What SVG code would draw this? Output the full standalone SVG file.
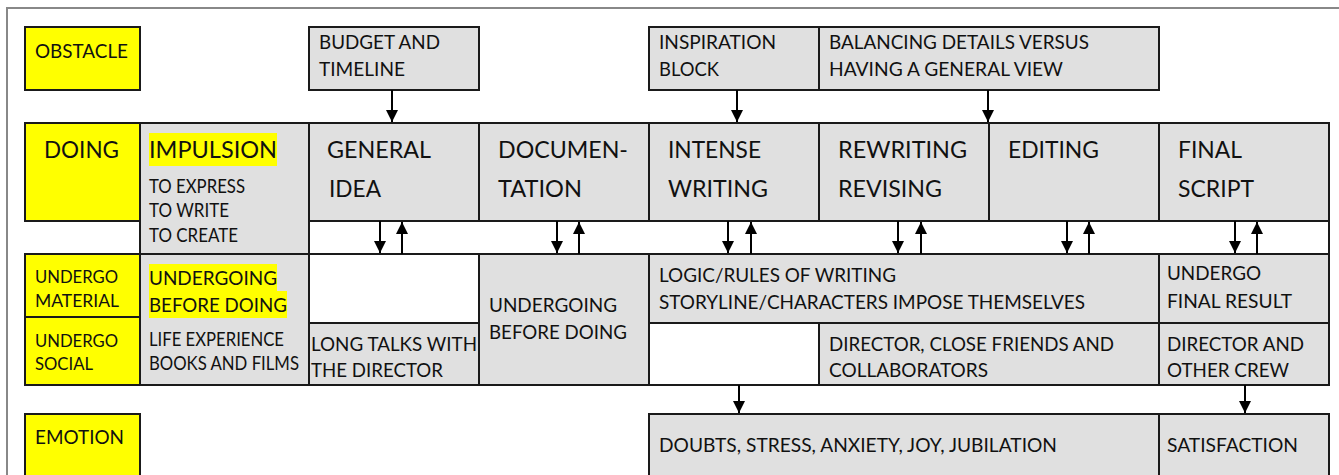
<svg xmlns="http://www.w3.org/2000/svg" width="1339" height="475" viewBox="0 0 1339 475">
<defs>
<marker id="ah" viewBox="0 0 10 10" refX="10" refY="5" markerWidth="6" markerHeight="6" orient="auto" markerUnits="strokeWidth">
<path d="M0,0 L10,5 L0,10 z" fill="#000"/>
</marker>
<style>
.y{fill:#ffff00;stroke:#1a1a1a;stroke-width:2}
.g{fill:#e0e0e0;stroke:#1a1a1a;stroke-width:2}
.w{fill:#ffffff;stroke:#1a1a1a;stroke-width:2}
.hl{fill:#ffff00}
text{font-family:Lato,"Open Sans",sans-serif;fill:#111}
.s{font-size:19.5px}
.u{font-size:17.5px}
.b{font-size:24px}
.c line{stroke:#000;stroke-width:2;marker-end:url(#ah)}
</style>
</defs>
<rect x="0" y="0" width="1339" height="475" fill="#fff"/>
<path d="M7,475 L7,8 L1339,8" fill="none" stroke="#888" stroke-width="2"/>

<g id="obstacle"><rect class="y" x="25" y="27" width="115" height="63"/><text class="s" x="35" y="58" textLength="93" lengthAdjust="spacingAndGlyphs">OBSTACLE</text></g>
<g id="budget"><rect class="g" x="309" y="27" width="170" height="63"/><text class="s" x="319" y="49" textLength="121" lengthAdjust="spacingAndGlyphs">BUDGET AND</text><text class="s" x="319" y="76" textLength="86" lengthAdjust="spacingAndGlyphs">TIMELINE</text></g>
<g id="inspiration"><rect class="g" x="649" y="27" width="170" height="63"/><text class="s" x="659" y="49" textLength="117" lengthAdjust="spacingAndGlyphs">INSPIRATION</text><text class="s" x="659" y="76" textLength="60" lengthAdjust="spacingAndGlyphs">BLOCK</text></g>
<g id="balancing"><rect class="g" x="819" y="27" width="340" height="63"/><text class="s" x="829" y="49" textLength="260" lengthAdjust="spacingAndGlyphs">BALANCING DETAILS VERSUS</text><text class="s" x="829" y="76" textLength="234" lengthAdjust="spacingAndGlyphs">HAVING A GENERAL VIEW</text></g>

<g id="band"><rect class="w" x="309" y="221" width="1020" height="33"/></g>

<g id="doing"><rect class="y" x="25" y="123" width="115" height="98"/><text class="b" x="44" y="158" textLength="75" lengthAdjust="spacingAndGlyphs">DOING</text></g>
<g id="impulsion"><rect class="g" x="140" y="123" width="169" height="131"/><rect class="hl" x="149" y="133" width="128" height="33"/><text class="b" x="149" y="158" textLength="128" lengthAdjust="spacingAndGlyphs">IMPULSION</text><text class="s" x="149" y="193" textLength="96" lengthAdjust="spacingAndGlyphs">TO EXPRESS</text><text class="s" x="149" y="217" textLength="80" lengthAdjust="spacingAndGlyphs">TO WRITE</text><text class="s" x="149" y="242" textLength="89" lengthAdjust="spacingAndGlyphs">TO CREATE</text></g>
<g id="general-idea"><rect class="g" x="309" y="123" width="170" height="98"/><text class="b" x="327" y="158" textLength="104" lengthAdjust="spacingAndGlyphs">GENERAL</text><text class="b" x="329" y="197" textLength="52" lengthAdjust="spacingAndGlyphs">IDEA</text></g>
<g id="documentation"><rect class="g" x="479" y="123" width="170" height="98"/><text class="b" x="498" y="158" textLength="130" lengthAdjust="spacingAndGlyphs">DOCUMEN-</text><text class="b" x="498" y="197" textLength="84" lengthAdjust="spacingAndGlyphs">TATION</text></g>
<g id="intense-writing"><rect class="g" x="649" y="123" width="170" height="98"/><text class="b" x="668" y="158" textLength="93" lengthAdjust="spacingAndGlyphs">INTENSE</text><text class="b" x="668" y="197" textLength="100" lengthAdjust="spacingAndGlyphs">WRITING</text></g>
<g id="rewriting"><rect class="g" x="819" y="123" width="170" height="98"/><text class="b" x="838" y="158" textLength="129" lengthAdjust="spacingAndGlyphs">REWRITING</text><text class="b" x="838" y="197" textLength="104" lengthAdjust="spacingAndGlyphs">REVISING</text></g>
<g id="editing"><rect class="g" x="989" y="123" width="170" height="98"/><text class="b" x="1008" y="158" textLength="91" lengthAdjust="spacingAndGlyphs">EDITING</text></g>
<g id="final-script"><rect class="g" x="1159" y="123" width="170" height="98"/><text class="b" x="1178" y="158" textLength="64" lengthAdjust="spacingAndGlyphs">FINAL</text><text class="b" x="1178" y="197" textLength="76" lengthAdjust="spacingAndGlyphs">SCRIPT</text></g>

<g id="undergo-material"><rect class="y" x="25" y="254" width="115" height="63"/><text class="u" x="35" y="283" textLength="83" lengthAdjust="spacingAndGlyphs">UNDERGO</text><text class="u" x="35" y="307" textLength="84" lengthAdjust="spacingAndGlyphs">MATERIAL</text></g>
<g id="undergo-social"><rect class="y" x="25" y="317" width="115" height="68"/><text class="u" x="35" y="347" textLength="83" lengthAdjust="spacingAndGlyphs">UNDERGO</text><text class="u" x="35" y="370" textLength="58" lengthAdjust="spacingAndGlyphs">SOCIAL</text></g>
<g id="undergoing-before"><rect class="g" x="140" y="254" width="169" height="131"/><rect class="hl" x="149" y="264" width="128" height="27"/><rect class="hl" x="149" y="291" width="138" height="27"/><text class="s" x="149" y="285" textLength="128" lengthAdjust="spacingAndGlyphs">UNDERGOING</text><text class="s" x="149" y="312" textLength="138" lengthAdjust="spacingAndGlyphs">BEFORE DOING</text><text class="s" x="149" y="346" textLength="135" lengthAdjust="spacingAndGlyphs">LIFE EXPERIENCE</text><text class="s" x="149" y="370" textLength="150" lengthAdjust="spacingAndGlyphs">BOOKS AND FILMS</text></g>
<g id="blank-1"><rect class="w" x="309" y="254" width="170" height="69"/></g>
<g id="long-talks"><rect class="g" x="309" y="323" width="170" height="62"/><text class="s" x="311" y="351" textLength="166" lengthAdjust="spacingAndGlyphs">LONG TALKS WITH</text><text class="s" x="311" y="377" textLength="132" lengthAdjust="spacingAndGlyphs">THE DIRECTOR</text></g>
<g id="undergoing-doc"><rect class="g" x="479" y="254" width="170" height="131"/><text class="s" x="489" y="312" textLength="128" lengthAdjust="spacingAndGlyphs">UNDERGOING</text><text class="s" x="489" y="339" textLength="138" lengthAdjust="spacingAndGlyphs">BEFORE DOING</text></g>
<g id="logic"><rect class="g" x="649" y="254" width="510" height="69"/><text class="s" x="659" y="282" textLength="237" lengthAdjust="spacingAndGlyphs">LOGIC/RULES OF WRITING</text><text class="s" x="659" y="309" textLength="426" lengthAdjust="spacingAndGlyphs">STORYLINE/CHARACTERS IMPOSE THEMSELVES</text></g>
<g id="blank-2"><rect class="w" x="649" y="323" width="170" height="62"/></g>
<g id="director-friends"><rect class="g" x="819" y="323" width="340" height="62"/><text class="s" x="829" y="351" textLength="285" lengthAdjust="spacingAndGlyphs">DIRECTOR, CLOSE FRIENDS AND</text><text class="s" x="829" y="377" textLength="159" lengthAdjust="spacingAndGlyphs">COLLABORATORS</text></g>
<g id="undergo-final"><rect class="g" x="1159" y="254" width="170" height="69"/><text class="s" x="1167" y="280" textLength="94" lengthAdjust="spacingAndGlyphs">UNDERGO</text><text class="s" x="1167" y="308" textLength="125" lengthAdjust="spacingAndGlyphs">FINAL RESULT</text></g>
<g id="director-crew"><rect class="g" x="1159" y="323" width="170" height="62"/><text class="s" x="1167" y="351" textLength="137" lengthAdjust="spacingAndGlyphs">DIRECTOR AND</text><text class="s" x="1167" y="377" textLength="122" lengthAdjust="spacingAndGlyphs">OTHER CREW</text></g>

<g id="emotion"><rect class="y" x="25" y="414" width="115" height="70"/><text class="s" x="35" y="444" textLength="89" lengthAdjust="spacingAndGlyphs">EMOTION</text></g>
<g id="doubts"><rect class="g" x="649" y="414" width="510" height="70"/><text class="s" x="659" y="452" textLength="398" lengthAdjust="spacingAndGlyphs">DOUBTS, STRESS, ANXIETY, JOY, JUBILATION</text></g>
<g id="satisfaction"><rect class="g" x="1159" y="414" width="170" height="70"/><text class="s" x="1167" y="452" textLength="131" lengthAdjust="spacingAndGlyphs">SATISFACTION</text></g>

<g id="connectors" class="c">
<line x1="392" y1="90" x2="392" y2="122"/>
<line x1="737" y1="90" x2="737" y2="122"/>
<line x1="988" y1="90" x2="988" y2="122"/>
<line x1="380" y1="221" x2="380" y2="253"/>
<line x1="402" y1="254" x2="402" y2="222"/>
<line x1="557" y1="221" x2="557" y2="253"/>
<line x1="579" y1="254" x2="579" y2="222"/>
<line x1="728" y1="221" x2="728" y2="253"/>
<line x1="751" y1="254" x2="751" y2="222"/>
<line x1="898" y1="221" x2="898" y2="253"/>
<line x1="921" y1="254" x2="921" y2="222"/>
<line x1="1067" y1="221" x2="1067" y2="253"/>
<line x1="1089" y1="254" x2="1089" y2="222"/>
<line x1="1235" y1="221" x2="1235" y2="253"/>
<line x1="1257" y1="254" x2="1257" y2="222"/>
<line x1="739" y1="385" x2="739" y2="413"/>
<line x1="1245" y1="385" x2="1245" y2="413"/>
</g>
</svg>
